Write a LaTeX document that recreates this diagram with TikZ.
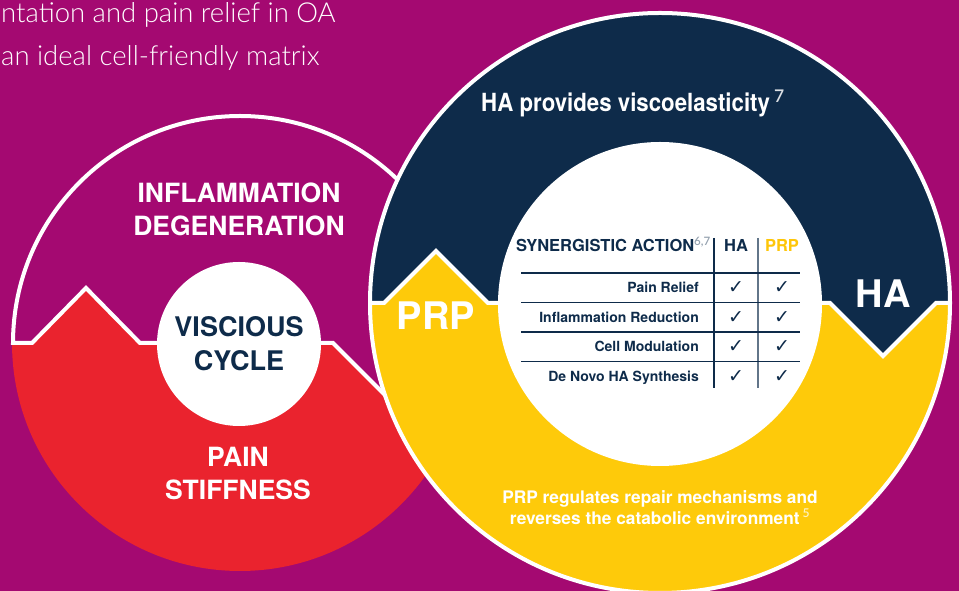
\documentclass[tikz,border=0pt]{standalone}
\usepackage{fontspec}
\setmainfont{TeX Gyre Heros}
\newfontfamily\thinfont{Lato Light}
\newfontfamily\symfont{DejaVu Sans}
\usetikzlibrary{positioning}

\definecolor{oabg}{RGB}{164,9,113}
\definecolor{hanavy}{RGB}{14,43,74}
\definecolor{prpyellow}{RGB}{254,202,10}
\definecolor{painred}{RGB}{234,35,46}

\newcommand{\fsz}[2]{\fontsize{#1}{#2}\selectfont}

\begin{document}
\begin{tikzpicture}[
    x = 1pt,
    y = 1pt,
    divider/.style={
        draw = white,
        line width = 4pt
    },
    cyclelabel/.style={
        inner sep = 0pt,
        text = white,
        align = center,
        font = \bfseries\fsz{26.5}{33}
    },
    ringtag/.style={
        inner sep = 0pt,
        text = white,
        font = \bfseries\fsz{38}{40}
    },
    head/.style={
        inner sep = 0pt,
        anchor = base,
        text = hanavy,
        font = \bfseries\fsz{16.5}{18}
    },
    rowlabel/.style={
        inner sep = 0pt,
        anchor = base east,
        text = hanavy,
        font = \bfseries\fsz{14}{16}
    },
    tick/.style={
        inner sep = 0pt,
        text = hanavy,
        font = \symfont\fsz{19}{20}
    },
    rule/.style={
        draw = hanavy,
        line width = 1.2pt
    }
]

\fill[oabg] (0,0) rectangle (959,591);
\useasboundingbox (0,0) rectangle (959,591);

\node[anchor=north west, align=left, inner sep=0pt, text=white,
    font=\thinfont\fsz{27.5}{43}] (intro) at (1,589)
    {ntation and pain relief in OA\\an ideal cell-friendly matrix};

% vicious cycle ring
\fill[painred] (240,248) circle[radius=228];
\filldraw[fill=oabg, divider] (13,248) -- (32,248) -- (86,303) -- (140,248)
    -- (333,248) -- (387,194) -- (441,248) -- (467,248)
    arc[start angle=0, end angle=180, radius=227] -- cycle;
\node[circle, fill=white, minimum size=164pt, inner sep=0pt,
    text=hanavy, align=center, font=\bfseries\fsz{27}{34}] (vicious) at (239,247)
    {VISCIOUS\\CYCLE};
\node[cyclelabel] (inflam) at (239,381.5) {INFLAMMATION\\DEGENERATION};
\node[cyclelabel] (pain) at (238,117) {PAIN\\STIFFNESS};

% HA / PRP ring
\fill[prpyellow] (660,288) circle[radius=290];
\fill[hanavy] (370,288) -- (384,288) -- (436,340) -- (488,288)
    -- (830,288) -- (883,235) -- (936,288) -- (950,288)
    arc[start angle=0, end angle=180, radius=290] -- cycle;
\draw[divider] (370,288) -- (384,288) -- (436,340) -- (488,288)
    -- (830,288) -- (883,235) -- (936,288) -- (950,288);
\node[circle, fill=white, minimum size=324pt, inner sep=0pt] (hub) at (660,287) {};
\draw[white, line width=4pt] (660,288) circle[radius=290];

\node[ringtag] (prp) at (436,275) {PRP};
\node[ringtag] (ha) at (883,297.5) {HA};
\node[anchor=base west, inner sep=0pt, text=white, font=\bfseries\fsz{25}{28}] (hatitle) at (481,479)
    {\scalebox{0.89}[1]{HA provides viscoelasticity}\,{\thinfont\color{white!85!hanavy}\textsuperscript{7}}};
\node[anchor=north, align=center, inner sep=0pt, text=white, font=\bfseries\fsz{17.3}{21}] (prptext) at (660,101)
    {PRP regulates repair mechanisms and\\reverses the catabolic environment\,{\thinfont\color{white!75!prpyellow}\textsuperscript{5}}};

% synergy table
\node[head, anchor=base east] (synergy) at (711,339)
    {SYNERGISTIC ACTION{\thinfont\color{hanavy!45}\textsuperscript{6,7}}};
\node[head] (colha) at (736,339) {HA};
\node[head, text=prpyellow!95!orange] (colprp) at (782,339) {PRP};
\draw[rule] (714,353) -- (714,203);
\draw[rule, draw=hanavy!65] (758,353) -- (758,203);
\foreach \txt [count=\ri] in {Pain Relief, Inflammation Reduction, Cell Modulation, De Novo HA Synthesis}
{
    \draw[rule] (521,347.5-29.5*\ri) -- (800,347.5-29.5*\ri);
    \node[rowlabel] (row\ri) at (699,327.5-29.5*\ri) {\txt};
    \node[tick] (tickha\ri) at (736,332.5-29.5*\ri) {✓};
    \node[tick] (tickprp\ri) at (782,332.5-29.5*\ri) {✓};
}

\end{tikzpicture}
\end{document}
